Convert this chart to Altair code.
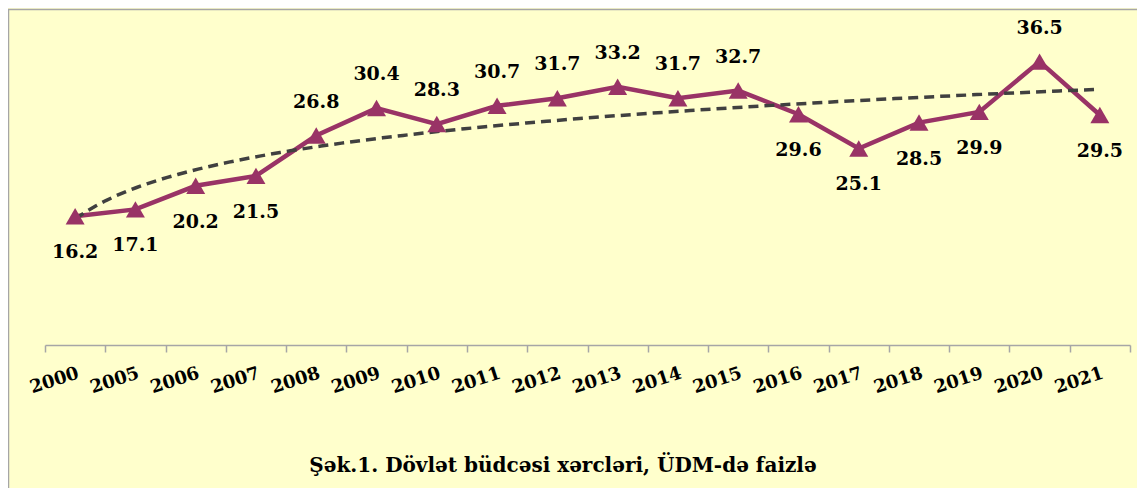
import json
import altair as alt
import pandas as pd

# ---- data ----
years = ["2000", "2005", "2006", "2007", "2008", "2009", "2010", "2011", "2012",
         "2013", "2014", "2015", "2016", "2017", "2018", "2019", "2020", "2021"]
values = [16.2, 17.1, 20.2, 21.5, 26.8, 30.4, 28.3, 30.7, 31.7,
          33.2, 31.7, 32.7, 29.6, 25.1, 28.5, 29.9, 36.5, 29.5]
below_years = ["2000", "2005", "2006", "2007", "2016", "2017", "2018", "2019", "2021"]
caption = ["Şək.1. Dövlət büdcəsi xərcləri, ÜDM-də faizlə"]

N = len(years)
df = pd.DataFrame({"year": years, "value": values, "n": list(range(1, N + 1))})
df["pos"] = df["n"] - 0.5
df["side"] = ["below" if y in below_years else "above" for y in years]

W, H = 1085, 307
FONT = "DejaVu Serif"
LINE_COLOR = "#993366"
BG = "#FFFFCC"
GRAY = "#A6A6A6"

label_expr = "datum.value < %d ? %s[datum.value] : ''" % (N, json.dumps(years))

xs = alt.Scale(domain=[0, N], nice=False, zero=False)
ys = alt.Scale(domain=[-0.7, 39.6], nice=False, zero=False)

x_enc = alt.X(
    "pos:Q", scale=xs,
    axis=alt.Axis(
        values=list(range(N + 1)), labelExpr=label_expr, labelOffset=W / N / 2,
        labelAngle=342, labelAlign="right", labelBaseline="top", labelPadding=12,
        labelFont=FONT, labelFontSize=18, labelFontWeight="bold", labelColor="black",
        labelOverlap=False, labelFlush=False, labelBound=False,
        tickSize=7, tickColor=GRAY, tickWidth=1.5, domainColor=GRAY, domainWidth=1.5,
        grid=False, title=None,
    ),
)
y_enc = alt.Y("value:Q", scale=ys, axis=None)

base = alt.Chart(df)

frame = alt.Chart(pd.DataFrame({"a": [0]})).mark_rect(
    fillOpacity=0, stroke=GRAY, strokeWidth=1.5
).encode(
    x=alt.value(-36.5), x2=alt.value(W + 20), y=alt.value(-28.5), y2=alt.value(H + 160)
)

line = base.mark_line(color=LINE_COLOR, strokeWidth=4.5).encode(x=x_enc, y=y_enc)
points = base.mark_point(shape="triangle-up", filled=True, size=360,
                         color=LINE_COLOR, opacity=1).encode(x="pos:Q", y="value:Q")
trend = base.transform_regression(
    "n", "value", method="log", extent=[1, N]
).transform_calculate(pos="datum.n - 0.5").mark_line(
    color="#404040", strokeDash=[10, 6], strokeWidth=3.5
).encode(x="pos:Q", y="value:Q")

text_style = dict(font=FONT, fontSize=19, fontWeight="bold", color="black",
                  baseline="middle", align="center")
labels_above = base.transform_filter("datum.side == 'above'").mark_text(
    dy=-34, **text_style).encode(x="pos:Q", y="value:Q", text=alt.Text("value:Q", format=".1f"))
labels_below = base.transform_filter("datum.side == 'below'").mark_text(
    dy=36, **text_style).encode(x="pos:Q", y="value:Q", text=alt.Text("value:Q", format=".1f"))

title_mark = alt.Chart(pd.DataFrame({"t": caption})).mark_text(
    font=FONT, fontSize=20, fontWeight="bold", color="black",
    baseline="middle", align="center"
).encode(text="t:N", x=alt.value(518), y=alt.value(428))

chart = alt.layer(frame, line, trend, points, labels_above, labels_below, title_mark).properties(
    width=W, height=H,
    background=BG,
    padding={"left": 37, "top": 30, "right": 7, "bottom": 143},
    autosize=alt.AutoSizeParams(type="none"),
).configure_view(stroke=None)

chart.save("out.html", embed_options={"renderer": "svg", "actions": False})
